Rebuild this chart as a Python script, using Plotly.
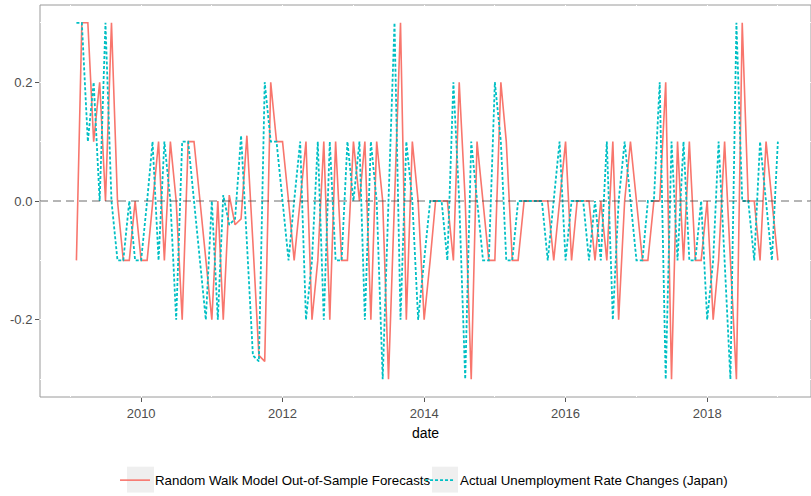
import plotly.graph_objects as go
import pandas as pd

dates = pd.date_range("2009-02-01", "2019-01-01", freq="MS").strftime("%Y-%m-%d").tolist()

actual = [0.3, 0.3, 0.1, 0.2, 0.0, 0.3, 0.0, -0.1, -0.1, 0.0,
          -0.1, -0.1, 0.0, 0.1, -0.1, 0.1, 0.0, -0.2, 0.1, 0.1,
          0.0, -0.1, -0.2, 0.0, -0.2, 0.01, -0.04, -0.03, 0.11, -0.07,
          -0.26, -0.27, 0.2, 0.1, 0.1, 0.0, -0.1, 0.0, 0.1, -0.2,
          -0.1, 0.1, -0.2, 0.1, -0.1, -0.1, 0.1, 0.0, 0.1, -0.2,
          0.1, 0.0, -0.3, 0.0, 0.3, -0.2, 0.1, 0.0, -0.2, -0.1,
          0.0, 0.0, 0.0, -0.1, 0.2, 0.0, -0.3, 0.1, 0.0, -0.1,
          -0.1, 0.2, 0.1, -0.1, -0.1, 0.0, 0.0, 0.0, 0.0, 0.0,
          -0.1, 0.0, 0.1, -0.1, 0.0, 0.0, 0.0, -0.1, 0.0, -0.1,
          0.1, -0.2, 0.0, 0.1, 0.0, -0.1, -0.1, 0.0, 0.0, 0.2,
          -0.3, 0.1, -0.1, 0.1, -0.1, -0.1, 0.0, -0.2, -0.1, 0.1,
          -0.1, -0.3, 0.3, 0.0, 0.0, -0.1, 0.1, 0.0, -0.1, 0.1]

forecast = [-0.1, 0.3, 0.3, 0.1, 0.2, 0.0, 0.3, 0.0, -0.1, -0.1,
            0.0, -0.1, -0.1, 0.0, 0.1, -0.1, 0.1, 0.0, -0.2, 0.1,
            0.1, 0.0, -0.1, -0.2, 0.0, -0.2, 0.01, -0.04, -0.03, 0.11,
            -0.07, -0.26, -0.27, 0.2, 0.1, 0.1, 0.0, -0.1, 0.0, 0.1,
            -0.2, -0.1, 0.1, -0.2, 0.1, -0.1, -0.1, 0.1, 0.0, 0.1,
            -0.2, 0.1, 0.0, -0.3, 0.0, 0.3, -0.2, 0.1, 0.0, -0.2,
            -0.1, 0.0, 0.0, 0.0, -0.1, 0.2, 0.0, -0.3, 0.1, 0.0,
            -0.1, -0.1, 0.2, 0.1, -0.1, -0.1, 0.0, 0.0, 0.0, 0.0,
            0.0, -0.1, 0.0, 0.1, -0.1, 0.0, 0.0, 0.0, -0.1, 0.0,
            -0.1, 0.1, -0.2, 0.0, 0.1, 0.0, -0.1, -0.1, 0.0, 0.0,
            0.2, -0.3, 0.1, -0.1, 0.1, -0.1, -0.1, 0.0, -0.2, -0.1,
            0.1, -0.1, -0.3, 0.3, 0.0, 0.0, -0.1, 0.1, 0.0, -0.1]

series_names = ["Random Walk Model Out-of-Sample Forecasts",
                "Actual Unemployment Rate Changes (Japan)"]
ytick_vals = [-0.2, 0.0, 0.2]
ytick_text = ["-0.2", "0.0", "0.2"]

FONT = "Liberation Sans, Arial, sans-serif"

fig = go.Figure()
fig.add_trace(go.Scatter(x=dates, y=forecast, mode="lines", name=series_names[0],
                         line=dict(color="#F8766D", width=1.6), legend="legend"))
fig.add_trace(go.Scatter(x=dates, y=actual, mode="lines", name=series_names[1],
                         line=dict(color="#00BFC4", width=1.8, dash="3px,2px"), legend="legend2"))

fig.add_shape(type="line", xref="paper", x0=0, x1=1, yref="y", y0=0, y1=0,
              line=dict(color="rgba(60,60,60,0.75)", width=1, dash="8px,5px"), layer="above")
fig.add_shape(type="rect", xref="paper", yref="paper", x0=0, x1=1, y0=0, y1=1,
              line=dict(color="#9a9a9a", width=1), layer="below")
# legend key backgrounds
for kx0, kx1 in [(0.1128, 0.1479), (0.5084, 0.5422)]:
    fig.add_shape(type="rect", xref="paper", yref="paper", x0=kx0, x1=kx1, y0=-0.2437, y1=-0.1777,
                  line=dict(width=0), fillcolor="#efefef", layer="below")

legend_common = dict(orientation="h", xanchor="left", y=-0.213, yanchor="middle",
                     font=dict(family=FONT, size=13.3, color="black"), itemwidth=30,
                     bgcolor="rgba(0,0,0,0)")

fig.update_layout(
    width=811, height=496,
    margin=dict(l=40, r=0, t=5, b=97),
    paper_bgcolor="white", plot_bgcolor="white",
    font=dict(family=FONT, size=13, color="#4d4d4d"),
    showlegend=True,
    legend=dict(x=0.0973, **legend_common),
    legend2=dict(x=0.4929, **legend_common),
    xaxis=dict(type="date", range=["2008-07-28", "2019-06-21"],
               tick0="2010-01-01", dtick="M24", tickformat="%Y",
               showgrid=True, gridcolor="white", gridwidth=1,
               minor=dict(dtick="M12", tick0="2009-01-01", showgrid=True, gridcolor="white", gridwidth=1),
               ticks="outside", ticklen=4, tickcolor="#555555",
               showline=False, zeroline=False,
               tickfont=dict(family=FONT, size=13, color="#4d4d4d"),
               title=dict(text="date", font=dict(family=FONT, size=14, color="black"), standoff=8)),
    yaxis=dict(range=[-0.33, 0.33], tickvals=ytick_vals, ticktext=ytick_text,
               showgrid=True, gridcolor="white", gridwidth=1,
               minor=dict(tickvals=[-0.3, -0.1, 0.1, 0.3], showgrid=True, gridcolor="white", gridwidth=1),
               ticks="outside", ticklen=4, tickcolor="#555555",
               showline=False, zeroline=False,
               tickfont=dict(family=FONT, size=13, color="#4d4d4d")),
)

fig.write_html("out.html")
